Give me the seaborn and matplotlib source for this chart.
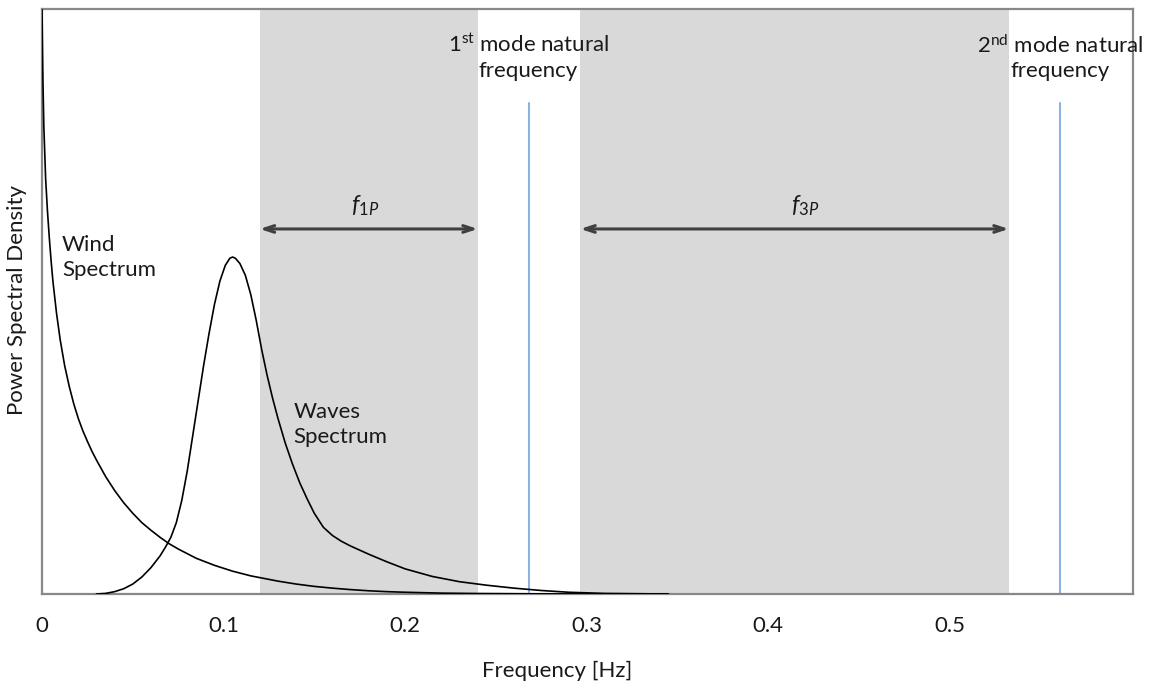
import matplotlib
matplotlib.use("Agg")
import matplotlib.pyplot as plt
import seaborn as sns
import pandas as pd

# Wind spectrum (normalised PSD vs frequency in Hz)
wind_freq = [0.0, 0.0005, 0.001, 0.002, 0.003, 0.004, 0.005, 0.006, 0.008, 0.010,
             0.0125, 0.015, 0.0175, 0.020, 0.0225, 0.025, 0.0275, 0.030, 0.035, 0.040,
             0.045, 0.050, 0.055, 0.060, 0.065, 0.070, 0.075, 0.080, 0.085, 0.090,
             0.095, 0.100, 0.105, 0.110, 0.115, 0.120, 0.130, 0.140, 0.150, 0.160,
             0.170, 0.180, 0.190, 0.200, 0.220, 0.240, 0.270, 0.300, 0.345]
wind_psd = [1.00, 0.88, 0.80, 0.71, 0.655, 0.61, 0.57, 0.535, 0.48, 0.435,
            0.39, 0.355, 0.325, 0.300, 0.279, 0.261, 0.244, 0.229, 0.201, 0.177,
            0.156, 0.138, 0.122, 0.109, 0.097, 0.086, 0.077, 0.069, 0.061, 0.055,
            0.049, 0.044, 0.039, 0.035, 0.031, 0.028, 0.022, 0.017, 0.013, 0.010,
            0.0075, 0.0055, 0.004, 0.003, 0.0015, 0.0008, 0.0003, 0.0001, 0.0]

# Wave spectrum (normalised PSD vs frequency in Hz)
wave_freq = [0.030, 0.035, 0.040, 0.045, 0.050, 0.055, 0.060, 0.065, 0.068, 0.071,
             0.074, 0.077, 0.080, 0.083, 0.086, 0.089, 0.092, 0.095, 0.098, 0.101,
             0.1035, 0.105, 0.1065, 0.109, 0.112, 0.115, 0.118, 0.121, 0.124, 0.127,
             0.130, 0.134, 0.138, 0.142, 0.146, 0.150, 0.155, 0.160, 0.165, 0.170,
             0.180, 0.190, 0.200, 0.215, 0.230, 0.245, 0.260, 0.275, 0.290, 0.310,
             0.345]
wave_psd = [0.000, 0.001, 0.004, 0.009, 0.017, 0.029, 0.045, 0.065, 0.080, 0.097,
            0.122, 0.160, 0.210, 0.270, 0.330, 0.390, 0.445, 0.495, 0.535, 0.562,
            0.574, 0.576, 0.574, 0.565, 0.545, 0.512, 0.468, 0.418, 0.374, 0.335,
            0.300, 0.258, 0.222, 0.190, 0.163, 0.138, 0.114, 0.100, 0.090, 0.082,
            0.068, 0.055, 0.043, 0.030, 0.021, 0.015, 0.010, 0.006, 0.003, 0.001,
            0.000]

# Rotor excitation bands and structural natural frequencies [Hz]
band_1p = (0.120, 0.240)
band_3p = (0.2966, 0.5325)
natural_freqs = [0.268, 0.5606]
natural_labels = ["1$^{\\rm st}$ mode natural\nfrequency",
                  "2$^{\\rm nd}$ mode natural\nfrequency"]

tick_values = [0.0, 0.1, 0.2, 0.3, 0.4, 0.5]
tick_labels = ["0", "0.1", "0.2", "0.3", "0.4", "0.5"]

sns.set_theme(style="white")
plt.rcParams["font.family"] = ["Lato", "DejaVu Sans"]
plt.rcParams["mathtext.fontset"] = "custom"
plt.rcParams["mathtext.rm"] = "Lato"
plt.rcParams["mathtext.it"] = "Lato:italic"

FS = 16
TXT = "#1a1a1a"

fig = plt.figure(figsize=(11.5, 6.83), dpi=100)
ax = fig.add_axes([42 / 1150, 89 / 683, 1091 / 1150, 585 / 683])

wind = pd.DataFrame({"Frequency": wind_freq, "PSD": wind_psd})
waves = pd.DataFrame({"Frequency": wave_freq, "PSD": wave_psd})

shade = "#d9d9d9"
ax.axvspan(*band_1p, color=shade, lw=0, zorder=0)
ax.axvspan(*band_3p, color=shade, lw=0, zorder=0)

for f in natural_freqs:
    ax.plot([f, f], [0, 0.839], color="#8db3e2", lw=1.5, zorder=2)

sns.lineplot(data=wind, x="Frequency", y="PSD", ax=ax, color="black", lw=1.2,
             estimator=None, sort=False, zorder=3)
sns.lineplot(data=waves, x="Frequency", y="PSD", ax=ax, color="black", lw=1.2,
             estimator=None, sort=False, zorder=3)

arrow_y = 0.624
for lo, hi in (band_1p, band_3p):
    ax.annotate("", xy=(hi, arrow_y), xytext=(lo, arrow_y),
                arrowprops=dict(arrowstyle="<->,head_length=0.6,head_width=0.2",
                                color="#404040", lw=2.2, shrinkA=0, shrinkB=0),
                zorder=4)

ax.text(0.178, 0.643, "$\\mathit{f}_{\\mathit{1P}}$", ha="center", va="bottom",
        fontsize=17, color=TXT)
ax.text(0.4206, 0.643, "$\\mathit{f}_{\\mathit{3P}}$", ha="center", va="bottom",
        fontsize=17, color=TXT)

ax.text(0.011, 0.614, "Wind\nSpectrum", ha="left", va="top", fontsize=FS,
        linespacing=1.3, color=TXT)
ax.text(0.1384, 0.328, "Waves\nSpectrum", ha="left", va="top", fontsize=FS,
        linespacing=1.3, color=TXT)

for f, lab in zip(natural_freqs, natural_labels):
    ax.text(f, 0.917, lab, ha="center", va="center", fontsize=FS,
            linespacing=1.3, multialignment="center", color=TXT,
            clip_on=False, zorder=5)

ax.set_xlim(0, 0.601)
ax.set_ylim(0, 1)
ax.set_xticks(tick_values)
ax.set_xticklabels(tick_labels, fontsize=FS, color=TXT)
ax.set_yticks([])
ax.tick_params(axis="x", length=0, pad=16)
ax.set_xlabel("")
ax.set_ylabel("")

for sp in ax.spines.values():
    sp.set_color("#888888")
    sp.set_linewidth(1.6)
    sp.set_visible(True)

fig.text(17 / 1150, 1 - 300 / 683, "Power Spectral Density", rotation=90,
         ha="center", va="center", fontsize=FS, color=TXT)
fig.text(557 / 1150, 1 - 677 / 683, "Frequency [Hz]", ha="center", va="baseline",
         fontsize=FS, color=TXT)

fig.savefig("out.png", dpi=100)
